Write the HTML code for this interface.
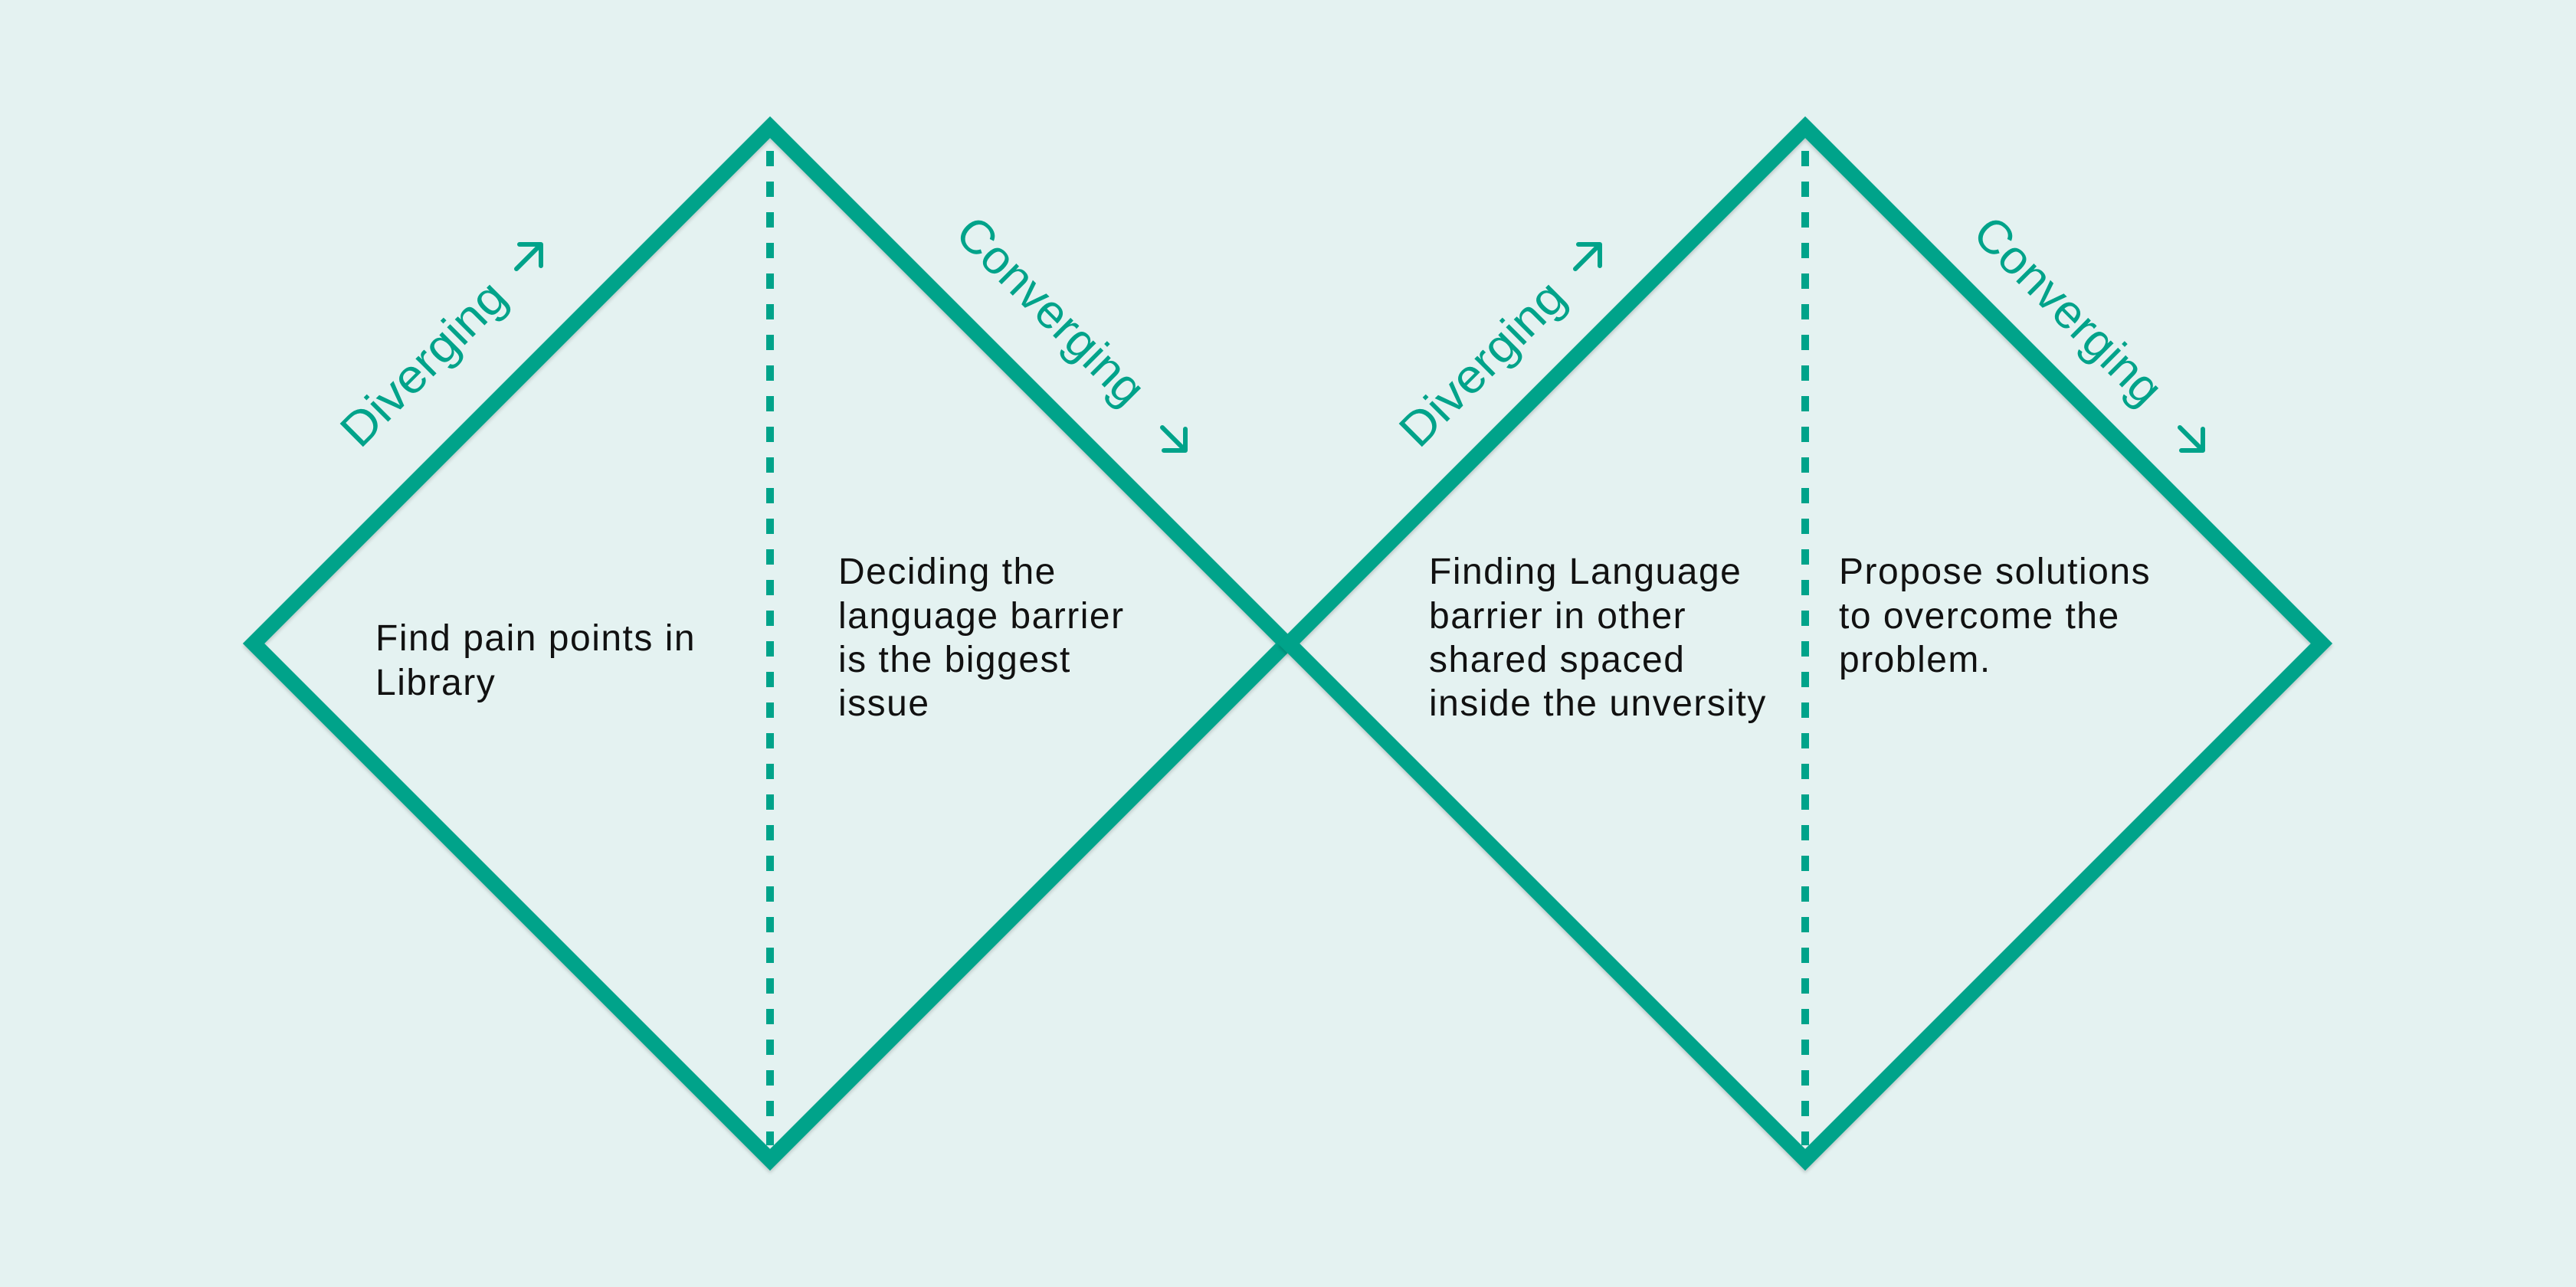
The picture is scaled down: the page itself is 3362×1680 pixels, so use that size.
<!DOCTYPE html>
<html><head><meta charset="utf-8"><style>
html,body{margin:0;padding:0;background:#e4f2f1;}
svg{display:block}
text{font-family:"Liberation Sans",sans-serif}
</style></head><body>
<svg width="3362" height="1680" viewBox="0 0 3362 1680" xmlns="http://www.w3.org/2000/svg">
<rect width="3362" height="1680" fill="#e4f2f1"/>
<defs>
<filter id="sh" x="-5%" y="-5%" width="110%" height="110%"><feDropShadow dx="0" dy="3" stdDeviation="2" flood-color="#000" flood-opacity="0.18"/></filter>
</defs>
<g>
<polygon points="1005,166 1679,840 1005,1514 331,840" fill="none" stroke="#00a38a" stroke-width="20" stroke-linejoin="miter" filter="url(#sh)"/>
<line x1="1005" y1="197" x2="1005" y2="1495" stroke="#00a38a" stroke-width="10" stroke-dasharray="20 20"/>
</g>
<g transform="translate(1351,0)">
<polygon points="1005,166 1679,840 1005,1514 331,840" fill="none" stroke="#00a38a" stroke-width="20" stroke-linejoin="miter" filter="url(#sh)"/>
<line x1="1005" y1="197" x2="1005" y2="1495" stroke="#00a38a" stroke-width="10" stroke-dasharray="20 20"/>
</g>
<g fill="#00a38a" font-size="62">
<text transform="translate(470,587) rotate(-45)" textLength="276" lengthAdjust="spacingAndGlyphs">Diverging</text>
<text transform="translate(1244,308) rotate(45)" textLength="318" lengthAdjust="spacingAndGlyphs">Converging</text>
<text transform="translate(1852,587) rotate(-45)" textLength="276" lengthAdjust="spacingAndGlyphs">Diverging</text>
<text transform="translate(2572,308) rotate(45)" textLength="318" lengthAdjust="spacingAndGlyphs">Converging</text>
</g>
<g fill="none" stroke="#00a38a" stroke-width="6" stroke-linecap="round" stroke-linejoin="round">
<path d="M674,351 L706,319 M678,319 L706,319 L706,347"/>
<path d="M1517,558 L1547,588 M1547,560 L1547,588 L1519,588"/>
<path d="M2056,351 L2088,319 M2060,319 L2088,319 L2088,347"/>
<path d="M2845,558 L2875,588 M2875,560 L2875,588 L2847,588"/>
</g>
<g fill="#111" font-size="48" letter-spacing="1.5" xml:space="preserve">
<text x="490" y="849">Find pain points  in</text>
<text x="490" y="907">Library</text>
<text x="1094" y="762">Deciding the</text>
<text x="1094" y="820">language barrier</text>
<text x="1094" y="877">is the biggest</text>
<text x="1094" y="934">issue</text>
<text x="1865" y="762">Finding Language</text>
<text x="1865" y="820">barrier in other</text>
<text x="1865" y="877">shared spaced</text>
<text x="1865" y="934">inside the unversity</text>
<text x="2400" y="762">Propose solutions</text>
<text x="2400" y="820">to overcome the</text>
<text x="2400" y="877">problem.</text>
</g>
</svg>
</body></html>
